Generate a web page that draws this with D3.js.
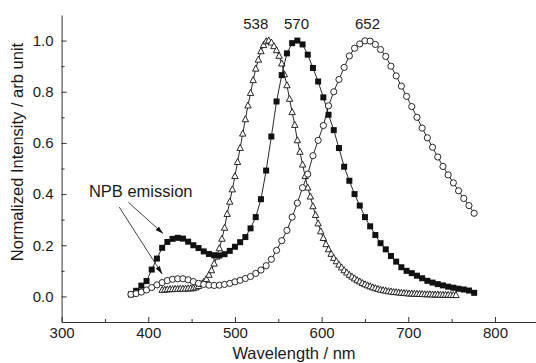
<!DOCTYPE html>
<html><head><meta charset="utf-8">
<script src="https://cdn.jsdelivr.net/npm/d3@7/dist/d3.min.js"></script>
<style>
html,body{margin:0;padding:0;background:#fff;}
text{font-family:"Liberation Sans",Arial,sans-serif;fill:#1a1a1a;}
</style></head>
<body><svg id="c" width="536" height="363"></svg>
<script>
// ---- data ----
const gridWl = [380,386,392,398,404,410,416,422,428,434,440,446,452,458,464,470,476,482,488,494,500,506,512,518,524,530,536,542,548,554,560,566,572,578,584,590,596,602,608,614,620,626,632,638,644,650,656,662,668,674,680,686,692,698,704,710,716,722,728,734,740,746,752,758,764,770,776];
const squareVals = [0.008,0.022,0.042,0.060,0.105,0.148,0.190,0.213,0.225,0.229,
  0.226,0.214,0.200,0.189,0.176,0.166,0.161,0.160,0.165,0.178,
  0.194,0.212,0.232,0.266,0.310,0.380,0.492,0.625,0.762,0.865,
  0.950,0.990,1.000,0.985,0.945,0.893,0.840,0.778,0.710,0.650,
  0.580,0.507,0.452,0.400,0.355,0.310,0.274,0.240,0.208,0.184,
  0.158,0.136,0.114,0.100,0.091,0.081,0.071,0.061,0.054,0.048,
  0.043,0.038,0.034,0.030,0.027,0.023,0.014];
const circleVals = [0.008,0.011,0.017,0.025,0.035,0.045,0.054,0.062,0.067,0.069,
  0.069,0.065,0.058,0.051,0.047,0.044,0.043,0.044,0.047,0.051,
  0.057,0.063,0.070,0.078,0.090,0.103,0.120,0.145,0.180,0.218,
  0.258,0.310,0.365,0.425,0.478,0.550,0.610,0.668,0.745,0.800,
  0.848,0.895,0.940,0.970,0.987,0.999,0.998,0.985,0.965,0.938,
  0.900,0.862,0.822,0.782,0.742,0.700,0.658,0.620,0.583,0.545,
  0.508,0.475,0.444,0.413,0.383,0.355,0.325];
const triWl = [416,419,422,425,428,431,434,437,440,443,446,449,452,455,458,461,464,467,470,473,476,479,482,485,488,491,494,497,500,503,506,509,512,515,518,521,524,527,530,533,536,539,542,545,548,551,554,557,560,563,566,569,572,575,578,581,584,587,590,593,596,599,602,605,608,611,614,617,620,623,626,629,632,635,638,641,644,647,650,653,656,659,662,665,668,671,674,677,680,683,686,689,692,695,698,701,704,707,710,713,716,719,722,725,728,731,734,737,740,743,746,749,752,755];
const triVals = [0.025,0.026,0.027,0.028,0.028,0.029,0.029,0.030,0.030,0.030,
  0.031,0.031,0.032,0.035,0.040,0.048,0.057,0.068,0.084,0.102,
  0.128,0.155,0.188,0.225,0.268,0.322,0.370,0.418,0.470,0.525,
  0.580,0.636,0.692,0.746,0.795,0.845,0.890,0.925,0.958,0.982,
  0.997,1.000,0.992,0.978,0.962,0.940,0.910,0.868,0.825,0.772,
  0.720,0.670,0.610,0.565,0.515,0.470,0.425,0.390,0.352,0.318,
  0.285,0.254,0.228,0.204,0.184,0.166,0.150,0.137,0.124,0.113,
  0.102,0.093,0.084,0.077,0.070,0.063,0.058,0.052,0.047,0.043,
  0.039,0.035,0.032,0.029,0.026,0.024,0.022,0.020,0.019,0.017,
  0.016,0.015,0.014,0.013,0.012,0.011,0.011,0.010,0.010,0.009,
  0.009,0.008,0.008,0.008,0.007,0.007,0.007,0.006,0.006,0.006,
  0.006,0.005,0.005,0.005];
const xMajor = [300,400,500,600,700,800];
const xMinor = [350,450,550,650,750,850];
const yMajor = [0.0,0.2,0.4,0.6,0.8,1.0];
const yMinor = [0.1,0.3,0.5,0.7,0.9];
const peakLabels = [{t:"538",x:524},{t:"570",x:571},{t:"652",x:653}];
const annText = {t:"NPB emission", x:331.5, y:0.387};
const arrows = [[[377,0.368],[417,0.246]],[[366.5,0.349],[416,0.088]]];

// ---- chart ----
const svg = d3.select("#c");
const x = d3.scaleLinear().domain([300,850]).range([61.6,538.3]);
const y = d3.scaleLinear().domain([-0.1,1.1]).range([322,15]);
const FS = "15px";

svg.append("defs").append("marker").attr("id","ah").attr("viewBox","0 0 10 6")
  .attr("refX",10).attr("refY",3).attr("markerWidth",8).attr("markerHeight",5)
  .attr("markerUnits","userSpaceOnUse").attr("orient","auto")
  .append("path").attr("d","M0,0 L10,3 L0,6 Z").attr("fill","#111");

// axes
const gx = svg.append("g").attr("transform","translate(0,322)");
gx.call(d3.axisBottom(x).tickValues(xMajor).tickFormat(d3.format("d")).tickSizeInner(-5).tickSizeOuter(0).tickPadding(5.5));
gx.append("g").call(d3.axisBottom(x).tickValues(xMinor).tickFormat("").tickSizeInner(-3).tickSizeOuter(0)).select(".domain").remove();
const gy = svg.append("g").attr("transform","translate(61.6,0)");
gy.call(d3.axisLeft(y).tickValues(yMajor).tickFormat(d3.format(".1f")).tickSizeInner(-5).tickSizeOuter(0).tickPadding(8));
gy.append("g").call(d3.axisLeft(y).tickValues(yMinor).tickFormat("").tickSizeInner(-3).tickSizeOuter(0)).select(".domain").remove();
svg.selectAll(".tick text").attr("font-size",FS).attr("font-family","Liberation Sans, Arial, sans-serif").attr("fill","#1a1a1a");
svg.selectAll(".domain,.tick line").attr("stroke","#333").attr("stroke-width",1);

// axis titles
svg.append("text").attr("x",294).attr("y",358.5).attr("text-anchor","middle").attr("font-size","16.5px").text("Wavelength / nm");
svg.append("text").attr("transform","translate(23,152) rotate(-90)").attr("text-anchor","middle").attr("font-size","16.5px").text("Normalized Intensity / arb unit");

const line = d3.line().x(d=>x(d[0])).y(d=>y(d[1]));
const tri = triWl.map((w,i)=>[w,triVals[i]]);
const sq = gridWl.map((w,i)=>[w,squareVals[i]]);
const ci = gridWl.map((w,i)=>[w,circleVals[i]]);

// triangles
svg.append("path").attr("d",line(tri)).attr("fill","none").attr("stroke","#111").attr("stroke-width",0.9);
svg.append("g").selectAll("path").data(tri).join("path")
  .attr("d",d=>{const cx=x(d[0]),cy=y(d[1]);return `M${cx},${cy-3.6}L${cx+3.2},${cy+2.4}L${cx-3.2},${cy+2.4}Z`;})
  .attr("fill","#fff").attr("stroke","#111").attr("stroke-width",0.9);
// squares
svg.append("path").attr("d",line(sq)).attr("fill","none").attr("stroke","#111").attr("stroke-width",0.9);
svg.append("g").selectAll("rect").data(sq).join("rect")
  .attr("x",d=>x(d[0])-3).attr("y",d=>y(d[1])-3).attr("width",6).attr("height",6).attr("fill","#111");
// circles
svg.append("path").attr("d",line(ci)).attr("fill","none").attr("stroke","#111").attr("stroke-width",0.9);
svg.append("g").selectAll("circle").data(ci).join("circle")
  .attr("cx",d=>x(d[0])).attr("cy",d=>y(d[1])).attr("r",3.1)
  .attr("fill","#fff").attr("stroke","#111").attr("stroke-width",0.9);

// peak labels
svg.append("g").selectAll("text").data(peakLabels).join("text")
  .attr("x",d=>x(d.x)).attr("y",29).attr("text-anchor","middle").attr("font-size","15px").text(d=>d.t);

// annotation
svg.append("text").attr("x",x(annText.x)).attr("y",y(annText.y)).attr("font-size","16.5px").text(annText.t);
svg.append("g").selectAll("line").data(arrows).join("line")
  .attr("x1",d=>x(d[0][0])).attr("y1",d=>y(d[0][1])).attr("x2",d=>x(d[1][0])).attr("y2",d=>y(d[1][1]))
  .attr("stroke","#111").attr("stroke-width",0.8).attr("marker-end","url(#ah)");
</script></body></html>
